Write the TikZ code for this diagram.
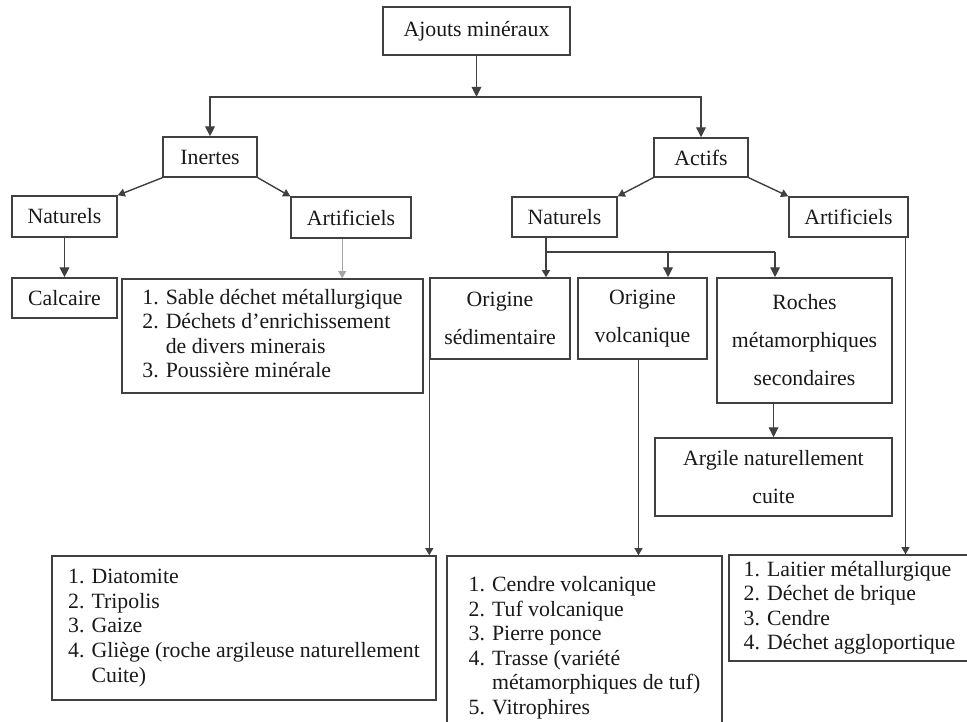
\documentclass[tikz,border=0pt]{standalone}
\usepackage{fontspec}
\setmainfont{Liberation Serif}
\usepackage{tikz}
\usetikzlibrary{arrows.meta}
\usetikzlibrary{calc}

\begin{document}
\begin{tikzpicture}[x=0.025cm,y=-0.025cm,
    box/.style={draw=black!75,line width=1pt,text=black!90,align=center,inner sep=0pt,
        font=\fontsize{15.5}{17.5}\selectfont},
    haut/.style={box,font=\fontsize{15.5}{27}\selectfont},
    arr/.style={draw=black!75,line width=1pt,-{Triangle[length=2.5mm,width=2.4mm]}},
    petit/.style={arr,-{Triangle[length=1.8mm,width=2mm]}},
    fil/.style={draw=black!75,line width=1pt}]
    \useasboundingbox (0,0) rectangle (967,722);
    \clip (0,0) rectangle (967,722);

    \node[box,minimum width=4.675cm,minimum height=1.2cm] (ajouts) at (476.5,31) {Ajouts minéraux};
    \node[box,minimum width=2.35cm,minimum height=1cm] (inertes) at (210,157) {Inertes};
    \node[box,minimum width=2.35cm,minimum height=0.975cm] (actifs) at (701,157.5) {Actifs};
    \node[box,minimum width=2.625cm,minimum height=1.025cm] (natg) at (64.5,216.5) {Naturels};
    \node[box,minimum width=3cm,minimum height=1.025cm] (artg) at (351,217.5) {Artificiels};
    \node[box,minimum width=2.625cm,minimum height=1cm] (natd) at (564.5,217) {Naturels};
    \node[box,minimum width=2.975cm,minimum height=1cm] (artd) at (848.5,217) {Artificiels};
    \node[box,minimum width=2.625cm,minimum height=1cm] (calcaire) at (64.5,298) {Calcaire};
    \node[box,minimum width=7.525cm,minimum height=2.85cm] (listeinertes) at (272.5,336) {%
        \begin{tabular}{@{}l@{\hspace{5pt}}l@{}}
        1. & Sable déchet métallurgique\\
        2. & Déchets d'enrichissement\\
           & de divers minerais\\
        3. & Poussière minérale
        \end{tabular}};
    \node[haut,minimum width=3.5cm,minimum height=2.025cm] (sedim) at (500,318.5) {Origine\\ sédimentaire};
    \node[haut,minimum width=3.225cm,minimum height=2.025cm] (volc) at (642.5,318.5) {Origine\\ volcanique};
    \node[haut,minimum width=4.375cm,minimum height=3.125cm] (roches) at (804.5,340.5) {Roches\\ métamorphiques\\ secondaires};
    \node[haut,minimum width=5.925cm,minimum height=1.95cm] (argile) at (773.5,477) {Argile naturellement\\ cuite};
    \node[box,minimum width=9.6cm,minimum height=3.6cm] (listesedim) at (244,628) {%
        \begin{tabular}{@{}l@{\hspace{5pt}}l@{}}
        1. & Diatomite\\
        2. & Tripolis\\
        3. & Gaize\\
        4. & Gliège (roche argileuse naturellement\\
           & Cuite)
        \end{tabular}};
    \node[box,minimum width=6.875cm,minimum height=4.6cm] (listevolc) at (584.5,648) {%
        \begin{tabular}{@{}l@{\hspace{5pt}}l@{}}
        1. & Cendre volcanique\\
        2. & Tuf volcanique\\
        3. & Pierre ponce\\
        4. & Trasse (variété\\
           & métamorphiques de tuf)\\
        5. & Vitrophires
        \end{tabular}};
    \node[box,minimum width=6.025cm,minimum height=2.65cm] (listeartif) at (849.5,608) {%
        \begin{tabular}{@{}l@{\hspace{5pt}}l@{}}
        1. & Laitier métallurgique\\
        2. & Déchet de brique\\
        3. & Cendre\\
        4. & Déchet aggloportique
        \end{tabular}};

    \coordinate (split) at (476.5,97);
    \coordinate (fork) at (546,252);
    \coordinate (fv) at (668,252);
    \coordinate (fr) at (775,252);

    \draw[arr] (ajouts) -- (split);
    \draw[arr] (split) -| (inertes);
    \draw[arr] (split) -| (actifs);
    \draw[petit] (inertes.south west) -- (natg.north east);
    \draw[petit] (inertes.south east) -- (artg.north west);
    \draw[petit] (actifs.south west) -- (natd.north east);
    \draw[petit] (actifs.south east) -- (artd.north west);
    \draw[arr] (natg) -- (calcaire);
    \draw[petit,draw=black!35,line width=0.5pt] ([xshift=-0.22cm]artg.south) -- ([xshift=-0.22cm]artg.south |- listeinertes.north);
    \draw[fil] (natd.south -| fork) -- (fork) -- (fr);
    \draw[petit] (fork) -- (fork |- sedim.north);
    \draw[arr] (fv) -- (fv |- volc.north);
    \draw[arr] (fr) -- (fr |- roches.north);
    \draw[arr] (argile.north |- roches.south) -- (argile.north);
    \draw[petit] (sedim.south west) -- (sedim.south west |- listesedim.north);
    \draw[petit] ([xshift=-0.1cm]volc.south) -- ([xshift=-0.1cm]volc.south |- listevolc.north);
    \draw[petit] ([xshift=-0.08cm]artd.south east) -- ([xshift=-0.08cm]artd.south east |- listeartif.north);
\end{tikzpicture}
\end{document}
